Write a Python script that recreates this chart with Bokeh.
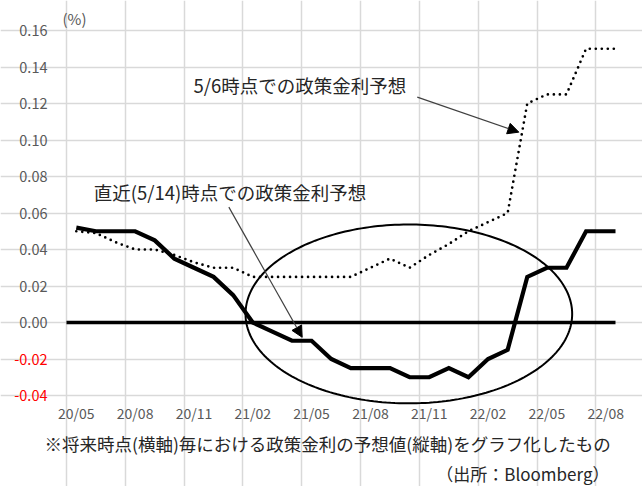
import numpy as np
from bokeh.plotting import figure
from bokeh.models import (Range1d, FixedTicker, Label, Arrow, NormalHead,
                          PolyAnnotation, PrintfTickFormatter, LinearAxis)
from bokeh.embed import file_html
from bokeh.resources import INLINE

# Monthly forward points from 20/05; the final point closes the horizon
month_pos = [float(i) for i in range(28)] + [27.5]
tick_labels = ["20/05", "20/08", "20/11", "21/02", "21/05",
               "21/08", "21/11", "22/02", "22/05", "22/08"]
tick_every = 3

# Policy-rate expectations (%) as of 5/14 (latest)
latest = [0.052, 0.050, 0.050, 0.050, 0.045, 0.035, 0.030, 0.025, 0.015, 0.000,
          -0.005, -0.010, -0.010, -0.020, -0.025, -0.025, -0.025, -0.030, -0.030, -0.025,
          -0.030, -0.020, -0.015, 0.025, 0.030, 0.030, 0.050, 0.050, 0.050]

# Policy-rate expectations (%) as of 5/6
earlier = [0.050, 0.049, 0.044, 0.040, 0.040, 0.037, 0.033, 0.030, 0.030, 0.025,
           0.025, 0.025, 0.025, 0.025, 0.025, 0.030, 0.035, 0.030, 0.037, 0.043,
           0.050, 0.055, 0.060, 0.120, 0.125, 0.125, 0.150, 0.150, 0.150]

y_ticks = [-0.04, -0.02, 0.00, 0.02, 0.04, 0.06, 0.08, 0.10, 0.12, 0.14, 0.16]

FONT = "Noto Sans CJK JP"
GRAY = "#595959"
GRID = "#d9d9d9"
TEXT = "#262626"

# canvas and chart-area geometry (pixels); the frame spans the whole canvas so
# that notes, red tick labels and the ellipse can sit outside the chart area
W, H = 642, 486
AREA_L, AREA_R, AREA_T, AREA_B = 66, 615, 30, 395
x_lo, x_hi = -0.5, 27.5
y_lo, y_hi = y_ticks[0], y_ticks[-1]
kx = (AREA_R - AREA_L) / (x_hi - x_lo)
ky = (AREA_B - AREA_T) / (y_hi - y_lo)
x_range = Range1d(x_lo - AREA_L / kx, x_hi + (W - AREA_R) / kx)
y_range = Range1d(y_lo - (H - AREA_B) / ky, y_hi + AREA_T / ky)

p = figure(width=W, height=H, x_range=x_range, y_range=y_range,
           output_backend="svg", toolbar_location=None, title=None,
           min_border=0)
p.outline_line_color = None
p.background_fill_color = "white"
p.border_fill_color = "white"

# grid: horizontal at every tick, vertical between categories every 3 months
p.ygrid.ticker = FixedTicker(ticks=y_ticks)
p.ygrid.bounds = (x_lo, x_hi)
p.xgrid.ticker = FixedTicker(ticks=[i - 0.5 for i in range(0, 28, tick_every)])
p.xgrid.bounds = (y_lo, y_hi)
for g in (p.xgrid, p.ygrid):
    g.grid_line_color = GRID
    g.grid_line_width = 1.5

# x axis pinned to the bottom of the chart area
xa = p.xaxis[0]
xa.fixed_location = y_lo
xa.ticker = FixedTicker(ticks=list(range(0, 28, tick_every)))
xa.major_label_overrides = {i * tick_every: lab for i, lab in enumerate(tick_labels)}
xa.axis_line_color = None
xa.major_tick_line_color = None
xa.minor_tick_line_color = None
xa.major_label_standoff = 1
xa.major_label_text_font = FONT
xa.major_label_text_font_size = "14px"
xa.major_label_text_color = GRAY

# y axis: non-negative labels in gray, negative ones in red
def style_y(ax, ticks, color):
    ax.fixed_location = x_lo
    ax.ticker = FixedTicker(ticks=ticks)
    ax.formatter = PrintfTickFormatter(format="%.2f")
    ax.axis_line_color = None
    ax.major_tick_line_color = None
    ax.minor_tick_line_color = None
    ax.major_label_standoff = 13
    ax.major_label_text_font = FONT
    ax.major_label_text_font_size = "14.5px"
    ax.major_label_text_color = color

style_y(p.yaxis[0], [t for t in y_ticks if t >= 0], GRAY)
neg_axis = LinearAxis()
style_y(neg_axis, [t for t in y_ticks if t < 0], "#ff0000")
p.add_layout(neg_axis, "left")

p.add_layout(Label(x=x_lo, y=y_hi, text="(%)", x_offset=-4, y_offset=2,
                   text_align="left", text_baseline="bottom",
                   text_font=FONT, text_font_size="15px", text_color=GRAY))

# zero line across the chart area
p.segment(x0=[x_lo], y0=[0], x1=[x_hi], y1=[0], line_color="black", line_width=3.5)

# series
p.line(month_pos, earlier, line_color="black", line_width=2.7,
       line_dash="0 6", line_cap="round")
p.line(month_pos, latest, line_color="black", line_width=4.2, line_join="miter")

# highlight ellipse around the negative-rate stretch
theta = np.linspace(0, 2 * np.pi, 240)
cx, cy, rx, ry = 16.96, 0.0047, 8.33, 0.049
p.add_layout(PolyAnnotation(xs=list(cx + rx * np.cos(theta)),
                            ys=list(cy + ry * np.sin(theta)),
                            fill_color=None, fill_alpha=0,
                            line_color="black", line_alpha=1.0, line_width=2))

# callouts
p.add_layout(Label(x=5.98, y=0.1299, text="5/6時点での政策金利予想",
                   text_align="left", text_baseline="middle",
                   text_font=FONT, text_font_size="18.5px", text_color=TEXT))
p.add_layout(Arrow(x_start=17.39, y_start=0.1235, x_end=22.57, y_end=0.1043,
                   line_color="#404040", line_width=1.2,
                   end=NormalHead(size=11, fill_color="black", line_color="black")))

p.add_layout(Label(x=0.89, y=0.0714, text="直近(5/14)時点での政策金利予想",
                   text_align="left", text_baseline="middle",
                   text_font=FONT, text_font_size="18.5px", text_color=TEXT))
p.add_layout(Arrow(x_start=7.78, y_start=0.0632, x_end=11.52, y_end=-0.0081,
                   line_color="#404040", line_width=1.2,
                   end=NormalHead(size=11, fill_color="black", line_color="black")))

# notes under the chart (screen units measured from the canvas bottom-left)
p.add_layout(Label(x=44, y=H - 443, x_units="screen", y_units="screen",
                   text="※将来時点(横軸)毎における政策金利の予想値(縦軸)をグラフ化したもの",
                   text_align="left", text_baseline="middle",
                   text_font=FONT, text_font_size="17.5px", text_color=TEXT))
p.add_layout(Label(x=609, y=H - 473, x_units="screen", y_units="screen",
                   text="（出所：Bloomberg）",
                   text_align="right", text_baseline="middle",
                   text_font=FONT, text_font_size="17px", text_color=TEXT))

open("out.html", "w").write(file_html(p, INLINE))
